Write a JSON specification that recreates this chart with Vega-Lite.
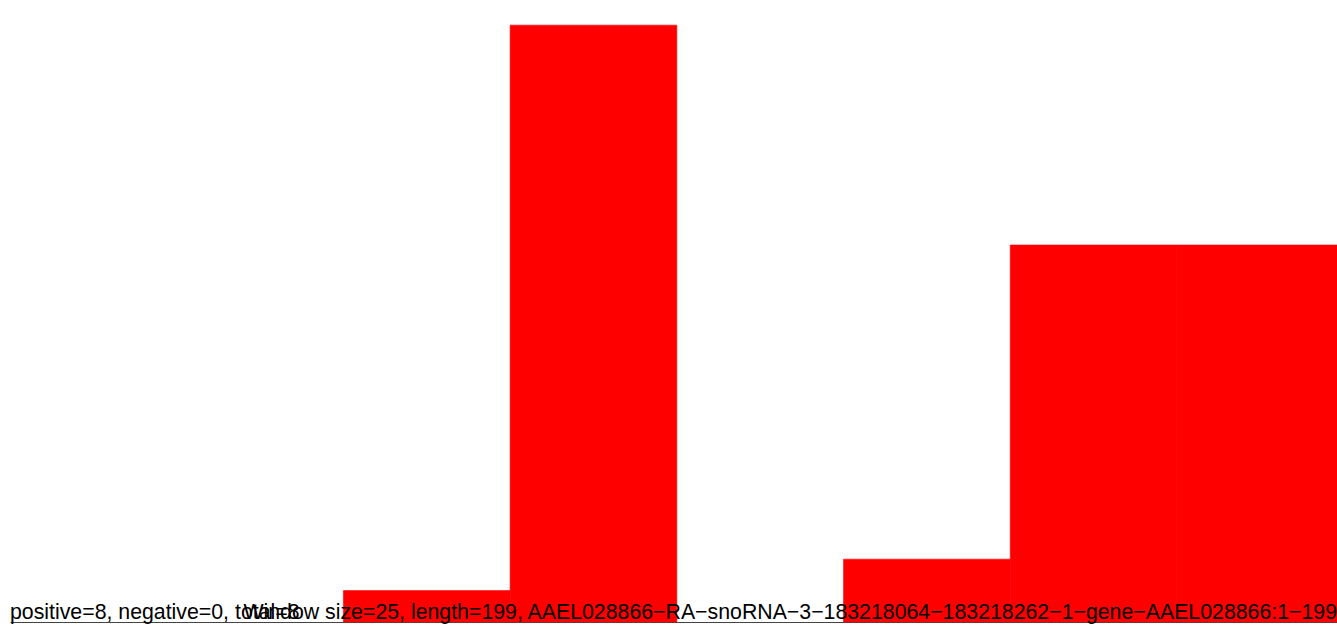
{
  "$schema": "https://vega.github.io/schema/vega-lite/v6.json",
  "autosize": "none",
  "padding": {"left": 10, "right": 0, "top": 0, "bottom": 12},
  "width": 1327,
  "height": 622,
  "background": "white",
  "config": {"view": {"stroke": null}, "font": "Liberation Sans"},
  "datasets": {
    "bins": [
      {"start": 0, "end": 25, "count": 0},
      {"start": 25, "end": 50, "count": 0},
      {"start": 50, "end": 75, "count": 1},
      {"start": 75, "end": 100, "count": 19},
      {"start": 100, "end": 125, "count": 0},
      {"start": 125, "end": 150, "count": 2},
      {"start": 150, "end": 175, "count": 12},
      {"start": 175, "end": 199, "count": 12}
    ],
    "leftLabel": [{"pos": 0, "label": "positive=8, negative=0, total=8"}],
    "rightLabel": [{"pos": 199, "label": "Window size=25, length=199, AAEL028866−RA−snoRNA−3−183218064−183218262−1−gene−AAEL028866:1−199"}]
  },
  "layer": [
    {
      "data": {"name": "bins"},
      "mark": {"type": "rect", "color": "#FF0000", "stroke": "#FF0000"},
      "encoding": {
        "x": {"field": "start", "type": "quantitative", "scale": {"domain": [0, 199], "nice": false, "zero": false},
              "axis": {"title": null, "labels": false, "ticks": false, "grid": false, "domain": true, "domainColor": "#444444", "domainWidth": 1}},
        "x2": {"field": "end"},
        "y": {"field": "count", "type": "quantitative", "scale": {"domain": [0, 19.8], "nice": false}, "axis": null},
        "y2": {"datum": 0},
        "strokeWidth": {"condition": {"test": "datum.count > 0", "value": 0.6}, "value": 0}
      }
    },
    {
      "data": {"name": "leftLabel"},
      "mark": {"type": "text", "align": "left", "baseline": "alphabetic", "fontSize": 21.3, "color": "black", "dy": -3},
      "encoding": {
        "x": {"field": "pos", "type": "quantitative"},
        "y": {"datum": 0},
        "text": {"field": "label"}
      }
    },
    {
      "data": {"name": "rightLabel"},
      "mark": {"type": "text", "align": "right", "baseline": "alphabetic", "fontSize": 21.3, "color": "black", "dy": -3},
      "encoding": {
        "x": {"field": "pos", "type": "quantitative"},
        "y": {"datum": 0},
        "text": {"field": "label"}
      }
    }
  ]
}
